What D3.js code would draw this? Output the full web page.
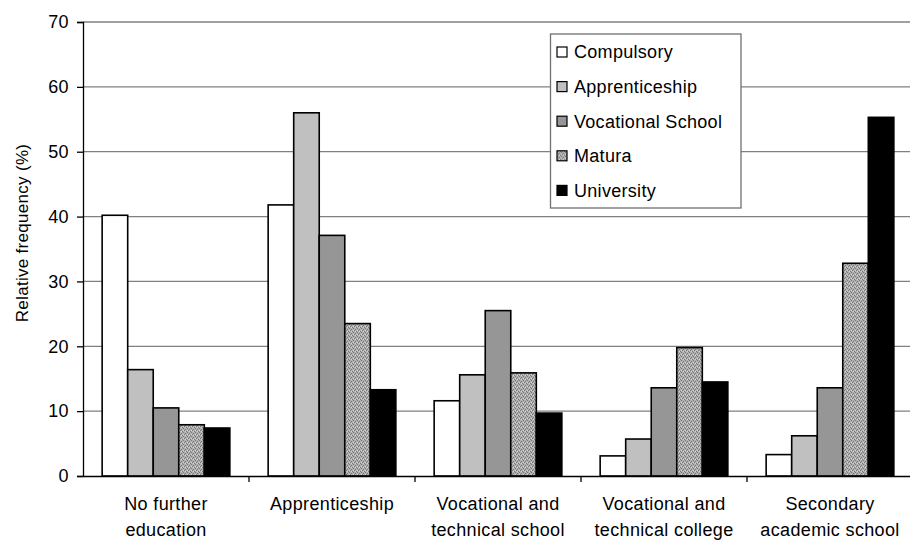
<!DOCTYPE html>
<html>
<head>
<meta charset="utf-8">
<script src="https://cdn.jsdelivr.net/npm/d3@7"></script>
<style>
  html, body { margin: 0; padding: 0; background: #fff; }
  svg { display: block; }
  text { font-family: "Liberation Sans", Arial, sans-serif; fill: #000; }
</style>
</head>
<body>
<div id="chart"></div>
<script>
const categories = [
  ["No further", "education"],
  ["Apprenticeship"],
  ["Vocational and", "technical school"],
  ["Vocational and", "technical college"],
  ["Secondary", "academic school"]
];
const seriesNames = ["Compulsory", "Apprenticeship", "Vocational School", "Matura", "University"];
const compulsory      = [40.2, 41.8, 11.6, 3.1, 3.3];
const apprenticeship  = [16.4, 56.0, 15.6, 5.7, 6.2];
const vocationalSchool= [10.5, 37.1, 25.5, 13.6, 13.6];
const matura          = [7.9, 23.5, 15.9, 19.8, 32.8];
const university      = [7.4, 13.3, 9.7, 14.5, 55.3];
const yTicks = [0, 10, 20, 30, 40, 50, 60, 70];
const yTitle = "Relative frequency (%)";

const seriesValues = [compulsory, apprenticeship, vocationalSchool, matura, university];
const fills = ["#ffffff", "#c0c0c0", "#969696", "url(#matura)", "#000000"];

const W = 910, H = 543;
const svg = d3.select("#chart").append("svg").attr("width", W).attr("height", H);

// pattern for Matura
const defs = svg.append("defs");
const pat = defs.append("pattern").attr("id", "matura").attr("patternUnits", "userSpaceOnUse")
  .attr("width", 4).attr("height", 4);
pat.append("rect").attr("width", 4).attr("height", 4).attr("fill", "#b0b0b0");
[[0,0],[2,1],[1,2],[3,3]].forEach(([px,py]) =>
  pat.append("rect").attr("x", px).attr("y", py).attr("width", 1).attr("height", 1).attr("fill", "#777777"));
[[2,3],[0,2]].forEach(([px,py]) =>
  pat.append("rect").attr("x", px).attr("y", py).attr("width", 1).attr("height", 1).attr("fill", "#d4d4d4"));

const x0 = 83, x1 = 913, yTop = 22, yBot = 476;
const x = d3.scaleBand().domain(d3.range(categories.length)).range([x0, x1]).padding(0);
const y = d3.scaleLinear().domain([0, 70]).range([yBot, yTop]);
const bw = x.bandwidth() / 6.5;
const xs = d3.scaleBand().domain(d3.range(seriesNames.length)).range([0.75 * bw, 5.75 * bw]).padding(0);

// gridlines
svg.append("g").selectAll("line").data(yTicks.filter(t => t > 0)).join("line")
  .attr("x1", x0).attr("x2", W).attr("y1", d => y(d)).attr("y2", d => y(d))
  .attr("stroke", "#808080").attr("stroke-width", 1.3);

// bars
const groups = svg.append("g").selectAll("g").data(categories).join("g")
  .attr("transform", (d, i) => `translate(${x(i)},0)`);
groups.selectAll("rect").data((d, i) => seriesValues.map((s, k) => ({k, v: s[i]}))).join("rect")
  .attr("x", d => xs(d.k)).attr("width", xs.bandwidth())
  .attr("y", d => y(d.v)).attr("height", d => y(0) - y(d.v))
  .attr("fill", d => fills[d.k]).attr("stroke", "#000").attr("stroke-width", 1.6);

// y axis
const yAxis = d3.axisLeft(y).tickValues(yTicks).tickSize(6).tickPadding(8);
const gy = svg.append("g").attr("transform", `translate(${x0},0)`).call(yAxis);
gy.select(".domain").attr("stroke", "#000").attr("stroke-width", 1.3);
gy.selectAll(".tick line").attr("stroke", "#000").attr("stroke-width", 1.3);
gy.selectAll(".tick text").style("font-size", "18px").style("letter-spacing", "0.4px")
  .style("font-family", "Liberation Sans, Arial, sans-serif");

// x axis
const xAxis = d3.axisBottom(x).tickValues([]).tickSizeOuter(0);
const gx = svg.append("g").attr("transform", `translate(0,${yBot})`).call(xAxis);
gx.select(".domain").attr("stroke", "#000").attr("stroke-width", 1.3);
gx.selectAll(".bt").data(d3.range(1, categories.length)).join("line").attr("class", "bt")
  .attr("x1", i => x(i)).attr("x2", i => x(i)).attr("y1", 0).attr("y2", 6)
  .attr("stroke", "#000").attr("stroke-width", 1.3);

// x labels
const xl = svg.append("g").selectAll("text").data(categories).join("text")
  .attr("text-anchor", "middle").style("font-size", "18px").style("letter-spacing", "0.35px")
  .attr("transform", (d, i) => `translate(${x(i) + x.bandwidth() / 2},510)`);
xl.selectAll("tspan").data(d => d).join("tspan")
  .attr("x", 0).attr("y", (d, j) => j * 26).text(d => d);

// y title
svg.append("text").attr("transform", `translate(22,233) rotate(-90)`)
  .attr("text-anchor", "middle").attr("dy", "0.35em").style("font-size", "17px")
  .style("letter-spacing", "0.3px").text(yTitle);

// legend
const lg = svg.append("g");
lg.append("rect").attr("x", 550.5).attr("y", 34).attr("width", 190.5).attr("height", 174)
  .attr("fill", "#fff").attr("stroke", "#707070").attr("stroke-width", 1.3);
const items = lg.selectAll("g.item").data(seriesNames).join("g").attr("class", "item")
  .attr("transform", (d, i) => `translate(557,${52 + i * 34.6})`);
items.append("rect").attr("x", 0).attr("y", -5).attr("width", 10).attr("height", 10)
  .attr("fill", (d, i) => fills[i]).attr("stroke", "#000").attr("stroke-width", 1.2);
items.append("text").attr("x", 17).attr("dy", "0.35em").style("font-size", "18px")
  .style("letter-spacing", "0.3px").text(d => d);
</script>
</body>
</html>
